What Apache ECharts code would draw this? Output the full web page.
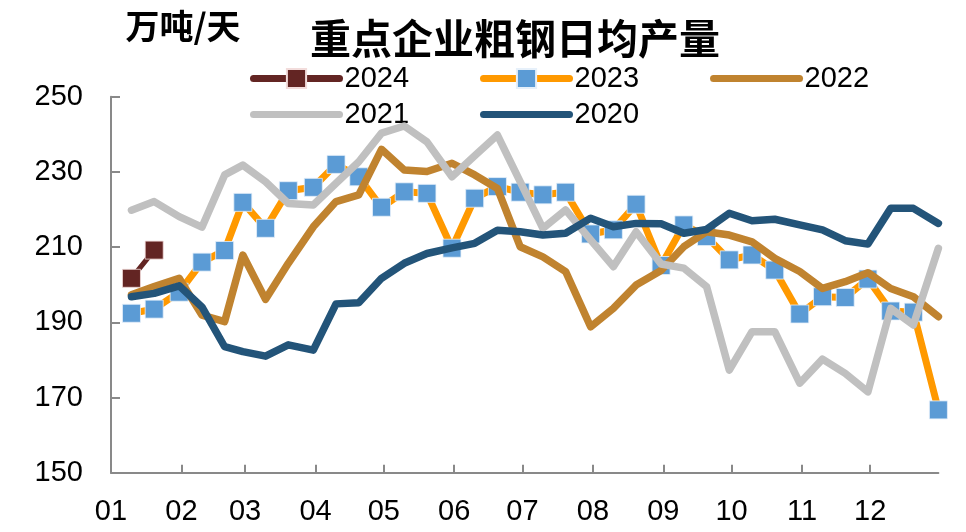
<!DOCTYPE html>
<html>
<head>
<meta charset="utf-8">
<script src="https://cdn.jsdelivr.net/npm/echarts@6/dist/echarts.min.js"></script>
<style>html,body{margin:0;padding:0;background:#fff}#c{width:966px;height:532px}</style>
</head>
<body>
<div id="c"></div>
<script>
// Period-end dates (three ten-day periods per month)
const periodDates = ['01-10','01-20','01-31','02-10','02-20','02-28','03-10','03-20','03-31','04-10','04-20','04-30',
  '05-10','05-20','05-31','06-10','06-20','06-30','07-10','07-20','07-31','08-10','08-20','08-31',
  '09-10','09-20','09-30','10-10','10-20','10-31','11-10','11-20','11-30','12-10','12-20','12-31'];
const monthLabels = ['01','02','03','04','05','06','07','08','09','10','11','12'];
const seriesNames = ['2024','2023','2022','2021','2020'];

const v2024 = [201.7, 209.2];
const v2023 = [192.4, 193.5, 198.0, 206.0, 209.1, 221.9, 215.0, 225.0, 225.9, 232.0, 228.7, 220.6,
  224.7, 224.3, 209.7, 223.0, 226.1, 224.6, 223.9, 224.6, 213.5, 214.6, 221.4, 205.1,
  215.9, 212.8, 206.6, 207.9, 203.9, 192.2, 196.8, 196.6, 201.5, 193.0, 192.7, 166.7];
const v2022 = [197.3, 199.5, 201.7, 191.9, 190.2, 207.9, 196.1, 205.7, 215.4, 222.1, 223.9, 236.0,
  230.5, 230.1, 232.3, 229.2, 225.6, 210.1, 207.4, 203.5, 188.8, 193.7, 199.9, 203.8,
  210.1, 214.1, 213.2, 211.4, 207.0, 203.5, 199.0, 200.8, 203.2, 199.0, 196.8, 191.5];
const v2021 = [219.8, 222.1, 218.1, 215.3, 229.2, 231.8, 227.4, 221.6, 221.2, 227.0, 232.7, 240.3,
  242.2, 238.0, 228.7, 234.3, 239.8, 227.4, 215.0, 219.9, 211.9, 204.8, 214.1, 205.5,
  204.4, 199.5, 177.3, 187.5, 187.5, 173.8, 180.2, 176.4, 171.5, 193.7, 189.3, 209.7];
const v2020 = [196.8, 197.7, 199.7, 194.1, 183.5, 182.2, 181.0, 184.0, 182.6, 194.9, 195.2, 201.7,
  205.7, 208.3, 209.8, 211.0, 214.5, 214.1, 213.2, 213.7, 217.7, 215.4, 216.3, 216.2,
  213.7, 214.7, 219.0, 217.0, 217.4, 215.9, 214.6, 211.7, 210.8, 220.3, 220.3, 216.3];

// day-of-year (Jan 1 = 0) in a common reference year
function dayOfYear(mmdd) {
  const [m, d] = mmdd.split('-').map(Number);
  return Math.round((Date.UTC(2023, m - 1, d) - Date.UTC(2023, 0, 1)) / 86400000);
}
const xDays = periodDates.map(dayOfYear);
const monthStarts = monthLabels.map(m => dayOfYear(m + '-01'));
const yearEnd = dayOfYear('12-31');
const pairs = vals => vals.map((v, i) => [xDays[i], v]);

const FONT = '"Liberation Sans", Arial, sans-serif';
const CJK = '"Noto Sans CJK SC", sans-serif';

const chart = echarts.init(document.getElementById('c'), null, {renderer: 'canvas'});
const legendCommon = {
  orient: 'horizontal', padding: 0, itemWidth: 86, itemHeight: 24, itemGap: 71,
  textStyle: {fontFamily: FONT, fontSize: 29, color: '#000'},
  lineStyle: {width: 7, cap: 'round'}
};
chart.setOption({
  animation: false,
  backgroundColor: '#fff',
  title: [
    {text: '重点企业粗钢日均产量', left: 510, textAlign: 'center', top: 13,
     textStyle: {fontFamily: CJK, fontSize: 41, fontWeight: 'bold', color: '#000'}},
    {text: '万吨/天', left: 178, textAlign: 'center', top: 4,
     textStyle: {fontFamily: CJK, fontSize: 34, fontWeight: 'bold', color: '#000'}}
  ],
  legend: [
    Object.assign({}, legendCommon, {left: 250, top: 64,
      data: [{name: '2024'}, {name: '2023'}, {name: '2022', itemStyle: {opacity: 0}}]}),
    Object.assign({}, legendCommon, {left: 250, top: 100,
      data: [{name: '2021', itemStyle: {opacity: 0}}, {name: '2020', itemStyle: {opacity: 0}}]})
  ],
  grid: {left: 111, right: 27.6, top: 96.7, bottom: 59.3, containLabel: false},
  xAxis: {
    type: 'value', min: 0, max: yearEnd,
    axisLine: {show: true, lineStyle: {color: '#898989', width: 2}},
    axisTick: {show: true, inside: true, length: 8, customValues: monthStarts, lineStyle: {color: '#898989', width: 2}},
    axisLabel: {show: true, customValues: monthStarts, margin: 25, fontFamily: FONT, fontSize: 29, color: '#000',
      formatter: v => monthLabels[monthStarts.indexOf(v)]},
    splitLine: {show: false}
  },
  yAxis: {
    type: 'value', min: 150, max: 250, interval: 20,
    axisLine: {show: true, lineStyle: {color: '#898989', width: 2}},
    axisTick: {show: true, inside: true, length: 9, lineStyle: {color: '#898989', width: 2}},
    axisLabel: {margin: 28, fontFamily: FONT, fontSize: 29, color: '#000'},
    splitLine: {show: false}
  },
  series: [
    {name: '2024', type: 'line', z: 3, data: pairs(v2024), symbol: 'rect', symbolSize: 18,
     itemStyle: {color: '#632523', borderColor: '#f2dcdb', borderWidth: 0.8},
     lineStyle: {color: '#632523', width: 5, cap: 'round', join: 'round'}},
    {name: '2023', type: 'line', z: 4, data: pairs(v2023), symbol: 'rect', symbolSize: 18,
     itemStyle: {color: '#5B9BD5', borderColor: '#e6f0fa', borderWidth: 0.8},
     lineStyle: {color: '#FF9900', width: 7, cap: 'round', join: 'round'}},
    {name: '2022', type: 'line', z: 5, data: pairs(v2022), symbol: 'none',
     itemStyle: {color: '#C0832F'},
     lineStyle: {color: '#C0832F', width: 7.5, cap: 'round', join: 'round'}},
    {name: '2021', type: 'line', z: 6, data: pairs(v2021), symbol: 'none',
     itemStyle: {color: '#C0C0C0'},
     lineStyle: {color: '#C0C0C0', width: 7.5, cap: 'round', join: 'round'}},
    {name: '2020', type: 'line', z: 7, data: pairs(v2020), symbol: 'none',
     itemStyle: {color: '#235479'},
     lineStyle: {color: '#235479', width: 7.5, cap: 'round', join: 'round'}}
  ]
});
</script>
</body>
</html>
